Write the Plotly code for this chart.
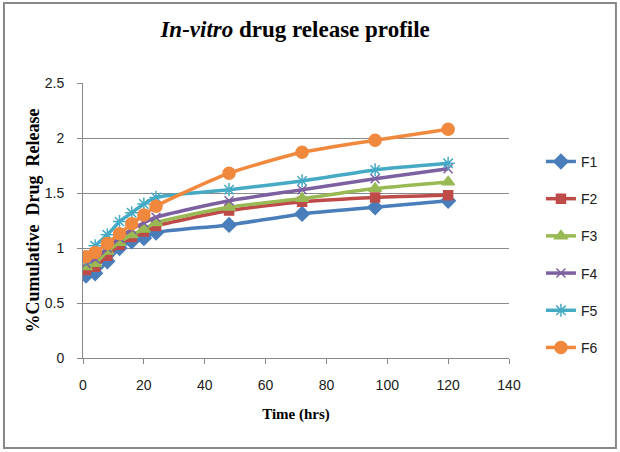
import plotly.graph_objects as go

time_hrs = [1, 4, 8, 12, 16, 20, 24, 48, 72, 96, 120]
F1 = [0.75, 0.77, 0.88, 1.00, 1.06, 1.09, 1.14, 1.21, 1.31, 1.37, 1.43]
F2 = [0.80, 0.83, 0.93, 1.03, 1.10, 1.15, 1.20, 1.34, 1.42, 1.46, 1.48]
F3 = [0.83, 0.86, 0.97, 1.05, 1.12, 1.17, 1.23, 1.37, 1.45, 1.54, 1.60]
F4 = [0.86, 0.90, 1.00, 1.09, 1.17, 1.23, 1.28, 1.43, 1.53, 1.63, 1.72]
F5 = [0.90, 1.02, 1.12, 1.24, 1.32, 1.40, 1.46, 1.53, 1.61, 1.71, 1.77]
F6 = [0.92, 0.96, 1.04, 1.13, 1.22, 1.30, 1.38, 1.68, 1.87, 1.98, 2.08]

series = [
    ("F1", F1, "#4A7EBB", "diamond", 11),
    ("F2", F2, "#BE4B48", "square", 9),
    ("F3", F3, "#98B954", "triangle-up", 11),
    ("F4", F4, "#7D60A0", "x-thin-open", 9),
    ("F5", F5, "#46AAC5", "asterisk-open", 11),
    ("F6", F6, "#F0893E", "circle", 12),
]

fig = go.Figure()
for name, vals, color, sym, size in series:
    fig.add_trace(go.Scatter(
        x=time_hrs, y=vals, name=name, legendgroup=name,
        mode="lines+markers",
        line=dict(color=color, width=3.5, shape="spline", smoothing=0.6),
        marker=dict(symbol=sym, size=size, color=color,
                    line=dict(color=color, width=1.5)),
    ))

axis_font = dict(family="Liberation Sans", size=14, color="#202020")
fig.update_layout(
    width=620, height=452,
    margin=dict(l=83, r=111, t=83, b=94),
    paper_bgcolor="white", plot_bgcolor="white",
    title=dict(text="<b><i>In-vitro</i> drug release profile</b>",
               font=dict(family="Liberation Serif", size=23, color="black"),
               x=0.476, xanchor="center", y=0.935, yanchor="middle"),
    xaxis=dict(range=[0, 140], dtick=20, showgrid=False,
               showline=True, linecolor="#888888", linewidth=1,
               ticks="outside", ticklen=5, tickcolor="#888888",
               ticklabelstandoff=9,
               tickfont=axis_font, zeroline=False,
               title=dict(text="<b>Time (hrs)</b>", standoff=16,
                          font=dict(family="Liberation Serif", size=15, color="black"))),
    yaxis=dict(range=[0, 2.5], dtick=0.5, showgrid=True, gridcolor="#8a8a8a",
               gridwidth=1, showline=True, linecolor="#888888", linewidth=1,
               ticks="outside", ticklen=5, tickcolor="#888888",
               ticklabelstandoff=10,
               tickfont=axis_font, zeroline=False,
               title=dict(text="<b>%Cumulative  Drug  Release</b>", standoff=0,
                          font=dict(family="Liberation Serif", size=18, color="black"))),
    legend=dict(x=1.075, y=0.375, xanchor="left", yanchor="middle",
                font=dict(family="Liberation Sans", size=14, color="#202020"),
                tracegroupgap=16, bgcolor="rgba(0,0,0,0)"),
    shapes=[dict(type="rect", xref="paper", yref="paper",
                 x0=-0.1855, x1=1.251, y0=-0.327, y1=1.291,
                 line=dict(color="#888888", width=2))],
)

fig.write_html("out.html")
